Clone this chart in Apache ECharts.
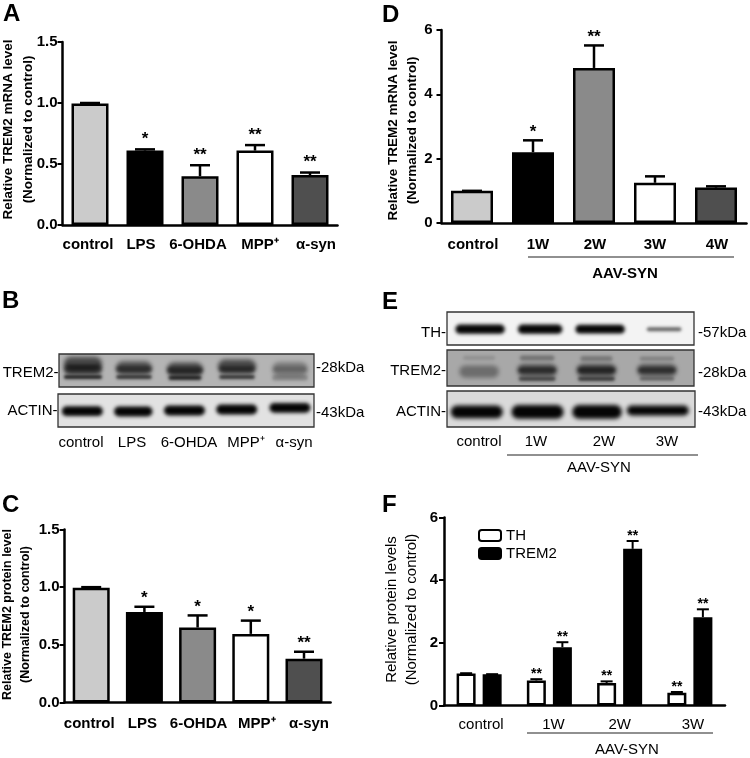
<!DOCTYPE html>
<html><head><meta charset="utf-8">
<style>html,body{margin:0;padding:0;background:#fff}#c{width:750px;height:758px}</style>
<script src="https://cdn.jsdelivr.net/npm/echarts@6/dist/echarts.min.js"></script>
</head><body><div id="c"></div>
<script>
const FONT='"Liberation Sans",Arial,sans-serif';
// Panel A
const catsA=['control','LPS','6-OHDA','MPP⁺','α-syn'];
const valsA=[0.995,0.61,0.40,0.61,0.41];
const errA=[1.0,0.62,0.49,0.655,0.43];
const starsA=['','*','**','**','**'];
// Panel C
const catsC=['control','LPS','6-OHDA','MPP⁺','α-syn'];
const valsC=[0.995,0.785,0.65,0.595,0.38];
const errC=[1.0,0.83,0.755,0.71,0.44];
const starsC=['','*','*','*','**'];
// Panel D
const catsD=['control','1W','2W','3W','4W'];
const valsD=[1.0,2.2,4.82,1.25,1.1];
const errD=[1.0,2.57,5.52,1.45,1.14];
const starsD=['','*','**','',''];
// Panel F
const catsF=['control','1W','2W','3W'];
const valsTH=[1.02,0.8,0.72,0.41];
const errTH=[1.03,0.84,0.77,0.43];
const starsTH=['','**','**','**'];
const valsTREM2=[1.0,1.86,5.0,2.82];
const errTREM2=[1.0,2.02,5.25,3.07];
const starsTREM2=['','**','**','**'];
const barColors=['#cbcbcb','#000000','#8a8a8a','#ffffff','#4f4f4f'];
// Blots: lane centre %, row %, width %, height %, darkness
const blotBtrem=[[9.4,30,15,44,.6],[9.4,46,15,30,.65],[9.4,70,15,12,.85],[29.4,42,14,40,.55],[29.4,46,14,20,.5],[29.4,70,14,12,.75],[49.4,46,14,40,.6],[49.4,50,14,20,.55],[49.4,72,13,14,.85],[69.8,38,15,42,.6],[69.8,46,14,20,.5],[69.8,70,14,12,.75],[90.6,46,14,42,.34],[90.6,46,13,14,.18],[90.6,72,14,16,.26]];
const blotBactin=[[9.5,52,16,30,1],[29.4,53,15,30,1],[49.4,50,16,30,1],[69.8,47,16,30,1],[90.6,42,16,30,1]];
const blotEth=[[13.4,52,20,28,1],[37.7,52,18,28,1],[62,52,20,26,1],[87.9,52,14,12,.6]];
const blotEtrem=[[13,60,16,34,.36],[13,22,13,12,.14],[36.5,56,16,32,.62],[36.5,56,15,12,.42],[36.5,80,15,12,.62],[36.5,22,14,14,.34],[60.5,56,16,32,.68],[60.5,56,15,12,.45],[60.5,80,15,12,.68],[60.5,24,13,14,.3],[85,56,16,32,.6],[85,56,15,12,.4],[85,80,14,10,.42],[85,24,14,12,.24]];
const blotEactin=[[12,58,21,36,1],[36.5,58,21,38,1],[60.5,58,20,38,1],[85,54,25,28,1]];

const chart=echarts.init(document.getElementById('c'),null,{renderer:'canvas'});
const grids=[],xAxes=[],yAxes=[],series=[],graphic=[];

function axisLabels(cats,shifts){
  return cats.map((c,i)=>{const s=shifts[i];
    return {value:c,textStyle:{padding:s>=0?[0,0,0,2*s]:[0,-2*s,0,0]}};});
}
function errSeries(g,vals,errs,stars,opt){
  series.push({type:'custom',xAxisIndex:g,yAxisIndex:g,silent:true,z:5,
    data:vals.map((v,i)=>[i,v,errs[i]]),encode:{x:0,y:[1,2]},
    renderItem(p,api){
      const i=api.value(0);
      const a=api.coord([i,api.value(1)]),b=api.coord([i,api.value(2)]);
      const x=a[0]+opt.dx, hw=opt.cap/2;
      const ls={stroke:'#000',lineWidth:opt.lw};
      const ch=[
        {type:'line',shape:{x1:x,y1:a[1],x2:x,y2:b[1]},style:ls},
        {type:'line',shape:{x1:x-hw,y1:b[1],x2:x+hw,y2:b[1]},style:ls}];
      if(stars[i]) ch.push({type:'text',style:{text:stars[i],x:x,y:b[1]-opt.up,align:'center',verticalAlign:'middle',
        font:'bold '+opt.fs+'px '+FONT,fill:'#000'}});
      return {type:'group',children:ch};
    }});
}
function barPanel(o){
  const g=grids.length;
  grids.push({left:o.left,top:o.top,width:o.w,height:o.h,outerBoundsMode:'none'});
  xAxes.push({gridIndex:g,type:'category',data:axisLabels(o.cats,o.shifts),
    axisLine:{lineStyle:{color:'#000',width:2.5}},
    axisTick:{alignWithLabel:true,length:5,lineStyle:{color:'#000',width:2}},
    axisLabel:{color:'#000',fontFamily:FONT,fontSize:o.xfs||15,fontWeight:o.xw||'bold',margin:o.xm,interval:0}});
  yAxes.push({gridIndex:g,type:'value',min:0,max:o.max,interval:o.step,
    axisLine:{show:true,lineStyle:{color:'#000',width:2.5}},
    axisTick:{show:true,length:5,lineStyle:{color:'#000',width:2}},
    splitLine:{show:false},
    axisLabel:{color:'#000',fontFamily:FONT,fontSize:15,fontWeight:'bold',margin:o.ym,
      formatter:v=>o.dec?v.toFixed(1):String(v)},
    name:o.title,nameLocation:'middle',nameRotate:90,nameGap:o.gap,nameMoveOverlap:false,
    nameTextStyle:{color:'#000',fontFamily:FONT,fontSize:o.tfs,fontWeight:o.tw||'bold',lineHeight:o.tlh,padding:o.tpad}});
  return g;
}
function singlePanel(o,vals,errs,stars){
  const g=barPanel(o);
  series.push({type:'bar',xAxisIndex:g,yAxisIndex:g,barWidth:o.bw,z:3,
    data:vals.map((v,i)=>({value:v,itemStyle:{color:barColors[i],borderColor:'#000',borderWidth:2.5}}))});
  errSeries(g,vals,errs,stars,{dx:0,cap:20,lw:2.5,up:o.up,fs:17});
}
const OFF=3000; // the rect is drawn off-canvas so only its soft shadow lands on the blot
function blot(box,bg,bands){
  const g=grids.length;
  grids.push({left:box[0],top:box[1],width:box[2],height:box[3],show:true,backgroundColor:bg,borderColor:'#333',borderWidth:1.3,outerBoundsMode:'none'});
  xAxes.push({gridIndex:g,type:'value',min:0,max:100,show:false});
  yAxes.push({gridIndex:g,type:'value',min:0,max:100,inverse:true,show:false});
  series.push({type:'custom',xAxisIndex:g,yAxisIndex:g,silent:true,clip:true,z:2,
    data:bands,encode:{x:0,y:1},
    renderItem(p,api){
      const c=api.coord([api.value(0),api.value(1)]);
      const s=api.size([api.value(2),api.value(3)]);
      const a=api.value(4);
      return {type:'rect',shape:{x:c[0]-s[0]/2-OFF,y:c[1]-s[1]/2,width:s[0],height:s[1],r:s[1]/2},
        style:{fill:'rgba(5,5,5,1)',shadowOffsetX:OFF,shadowBlur:2.5+s[1]*0.15,shadowColor:'rgba(5,5,5,'+a+')'}};
    }});
}
function label(text,x,y,o){
  o=o||{};
  graphic.push({type:'text',silent:true,x:x,y:y,style:{text:text,align:o.align||'center',verticalAlign:'middle',
    font:(o.weight||'normal')+' '+(o.size||15)+'px '+FONT,fill:'#000'}});
}
function rule(x1,x2,y){
  graphic.push({type:'line',silent:true,shape:{x1:x1,y1:y,x2:x2,y2:y},style:{stroke:'#222',lineWidth:1.2}});
}

singlePanel({left:62.5,top:42,w:275,h:183,cats:catsA,shifts:[-2,-4,-2,5,6],max:1.5,step:.5,dec:true,bw:37,xm:12,ym:5,up:10,
  title:'Relative TREM2 mRNA level\n(Normalized to control)',gap:24.5,tfs:13.5,tlh:20,tpad:[0,0,0,8]},valsA,errA,starsA);
singlePanel({left:441.5,top:30,w:305,h:193,cats:catsD,shifts:[1,5,1,0,1],max:6,step:2,dec:false,bw:42,xm:14,ym:9,up:8,
  title:'Relative TREM2 mRNA level\n(Normalized to control)',gap:20,tfs:13.5,tlh:19,tpad:[0,8,0,0]},valsD,errD,starsD);
singlePanel({left:64.6,top:529.5,w:266,h:173,cats:catsC,shifts:[-2,-2,1,6,5],max:1.5,step:.5,dec:true,bw:37,xm:14,ym:5,up:8,
  title:'Relative TREM2 protein level\n(Normalized to control)',gap:30.5,tfs:12.5,tlh:18,tpad:[0,0,0,3]},valsC,errC,starsC);

const gF=barPanel({left:444,top:517.5,w:281,h:188,cats:catsF,shifts:[2,4,0,3],max:6,step:2,dec:false,xm:12,ym:6,xfs:15,xw:'normal',
  title:'Relative protein levels\n(Normalized to control)',gap:22,tfs:15,tw:'normal',tlh:20,tpad:[0,0,0,4]});
series.push({name:'TH',type:'bar',xAxisIndex:gF,yAxisIndex:gF,barWidth:19,barGap:'37%',z:3,data:valsTH,
  itemStyle:{color:'#fff',borderColor:'#000',borderWidth:2.5}});
series.push({name:'TREM2',type:'bar',xAxisIndex:gF,yAxisIndex:gF,barWidth:19,barGap:'37%',z:3,data:valsTREM2,
  itemStyle:{color:'#000',borderColor:'#000',borderWidth:2.5}});
errSeries(gF,valsTH,errTH,starsTH,{dx:-13,cap:12,lw:2,up:5,fs:14});
errSeries(gF,valsTREM2,errTREM2,starsTREM2,{dx:13,cap:12,lw:2,up:5,fs:14});

blot([59,354,255,33],'#b4b4b4',blotBtrem);
blot([58,394,256,33],'#e2e2e2',blotBactin);
blot([447,312,247,33],'#f3f3f3',blotEth);
blot([447,350,247,36],'#a8a8a8',blotEtrem);
blot([447,391,248,36],'#dadada',blotEactin);

[['A',3,14],['B',2,301],['C',2,505],['D',382,15],['E',382,302],['F',382,505]].forEach(l=>label(l[0],l[1],l[2],{align:'left',weight:'bold',size:24}));

label('TREM2-',58.5,373,{align:'right'});label('ACTIN-',57.5,411,{align:'right'});
label('-28kDa',316,368,{align:'left'});label('-43kDa',316,413,{align:'left'});
[['control',81],['LPS',132],['6-OHDA',189],['MPP⁺',246],['α-syn',294]].forEach(l=>label(l[0],l[1],443));

label('TH-',446,333,{align:'right'});label('TREM2-',446,371,{align:'right'});label('ACTIN-',446,412,{align:'right'});
label('-57kDa',698,333,{align:'left'});label('-28kDa',698,373,{align:'left'});label('-43kDa',698,412,{align:'left'});
[['control',479],['1W',536],['2W',604],['3W',667]].forEach(l=>label(l[0],l[1],442));
rule(507,698,455);label('AAV-SYN',599,468);

rule(528,734,257);label('AAV-SYN',625,274,{weight:'bold'});
rule(527,713,733);label('AAV-SYN',627,750);

chart.setOption({animation:false,backgroundColor:'#fff',
  textStyle:{fontFamily:FONT},
  legend:{data:['TH','TREM2'],selectedMode:false,orient:'vertical',left:478,top:528,padding:0,itemWidth:22,itemHeight:11,itemGap:3,
    textStyle:{color:'#000',fontFamily:FONT,fontSize:15}},
  grid:grids,xAxis:xAxes,yAxis:yAxes,series:series,graphic:graphic});
</script></body></html>
